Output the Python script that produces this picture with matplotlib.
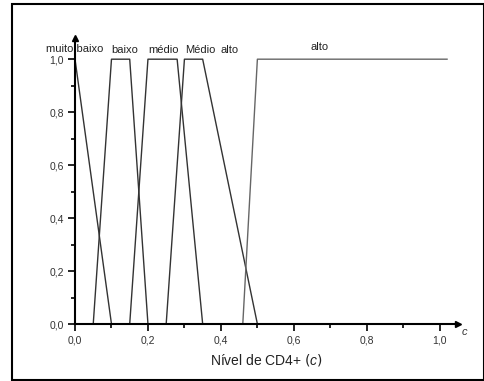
import matplotlib
matplotlib.use("Agg")
import matplotlib.pyplot as plt
from matplotlib.patches import Rectangle

plt.rcParams['font.family'] = ['Liberation Sans', 'DejaVu Sans']
plt.rcParams['mathtext.fontset'] = 'custom'
plt.rcParams['mathtext.it'] = 'Liberation Sans:italic'

# Membership functions (x breakpoints, y values)
muito_baixo_x = [0.0, 0.10]
muito_baixo_y = [1.0, 0.0]
baixo_x = [0.05, 0.10, 0.15, 0.20]
baixo_y = [0.0, 1.0, 1.0, 0.0]
medio_x = [0.15, 0.20, 0.28, 0.35]
medio_y = [0.0, 1.0, 1.0, 0.0]
medio_alto_x = [0.25, 0.30, 0.35, 0.50]
medio_alto_y = [0.0, 1.0, 1.0, 0.0]
alto_x = [0.46, 0.50, 1.02]
alto_y = [0.0, 1.0, 1.0]

xticks = [0.0, 0.2, 0.4, 0.6, 0.8, 1.0]
xticklabels = ["0,0", "0,2", "0,4", "0,6", "0,8", "1,0"]
yticks = [0.0, 0.2, 0.4, 0.6, 0.8, 1.0]
yticklabels = ["0,0", "0,2", "0,4", "0,6", "0,8", "1,0"]

fig = plt.figure(figsize=(4.85, 3.81), dpi=100)
fig.patches.append(Rectangle((12/485, 1/381), (484-12)/485, (377-1)/381,
                             transform=fig.transFigure, fill=False,
                             edgecolor="black", linewidth=1.5))
ax = fig.add_axes([75/485, 1-324/381, 383/485, 286/381])

lc = "#333333"
for xs, ys in [(muito_baixo_x, muito_baixo_y), (baixo_x, baixo_y),
               (medio_x, medio_y), (medio_alto_x, medio_alto_y)]:
    ax.plot(xs, ys, color=lc, lw=1.0, clip_on=False)
ax.plot(alto_x, alto_y, color="#666666", lw=1.0, clip_on=False)

ax.set_xlim(0, 1.05)
ax.set_ylim(0, 1.08)
for s in ["top", "right"]:
    ax.spines[s].set_visible(False)
for s in ["left", "bottom"]:
    ax.spines[s].set_linewidth(1.5)

ax.set_xticks(xticks)
ax.set_xticklabels(xticklabels)
ax.set_yticks(yticks)
ax.set_yticklabels(yticklabels)
ax.set_xticks([0.1, 0.3, 0.5, 0.7, 0.9], minor=True)
ax.set_yticks([0.1, 0.3, 0.5, 0.7, 0.9], minor=True)
ax.tick_params(which="major", length=5, width=1.2, labelsize=7.5, colors="black",
               labelcolor="#333333", pad=3)
ax.tick_params(which="minor", length=3, width=1.2)

# arrows
ax.plot([1], [0], marker=">", color="black", markersize=5, transform=ax.transAxes, clip_on=False)
ax.plot([0], [1], marker="^", color="black", markersize=5, transform=ax.transAxes, clip_on=False)
ax.text(1.01, -0.028, "c", style="italic", fontsize=8, transform=ax.transAxes,
        color="#333333", va="center")

ax.set_xlabel("Nível de CD4+ $\\it{(c)}$", fontsize=10, color="#222222", labelpad=5)

lab = dict(fontsize=8, color="#222222", ha="center", va="center", clip_on=False)
ax.text(0.0, 1.04, "muito baixo", **lab)
ax.text(0.137, 1.035, "baixo", **lab)
ax.text(0.244, 1.035, "médio", **lab)
ax.text(0.343, 1.035, "Médio", **lab)
ax.text(0.425, 1.035, "alto", **lab)
ax.text(0.67, 1.045, "alto", **lab)

fig.savefig("out.png", dpi=100)
